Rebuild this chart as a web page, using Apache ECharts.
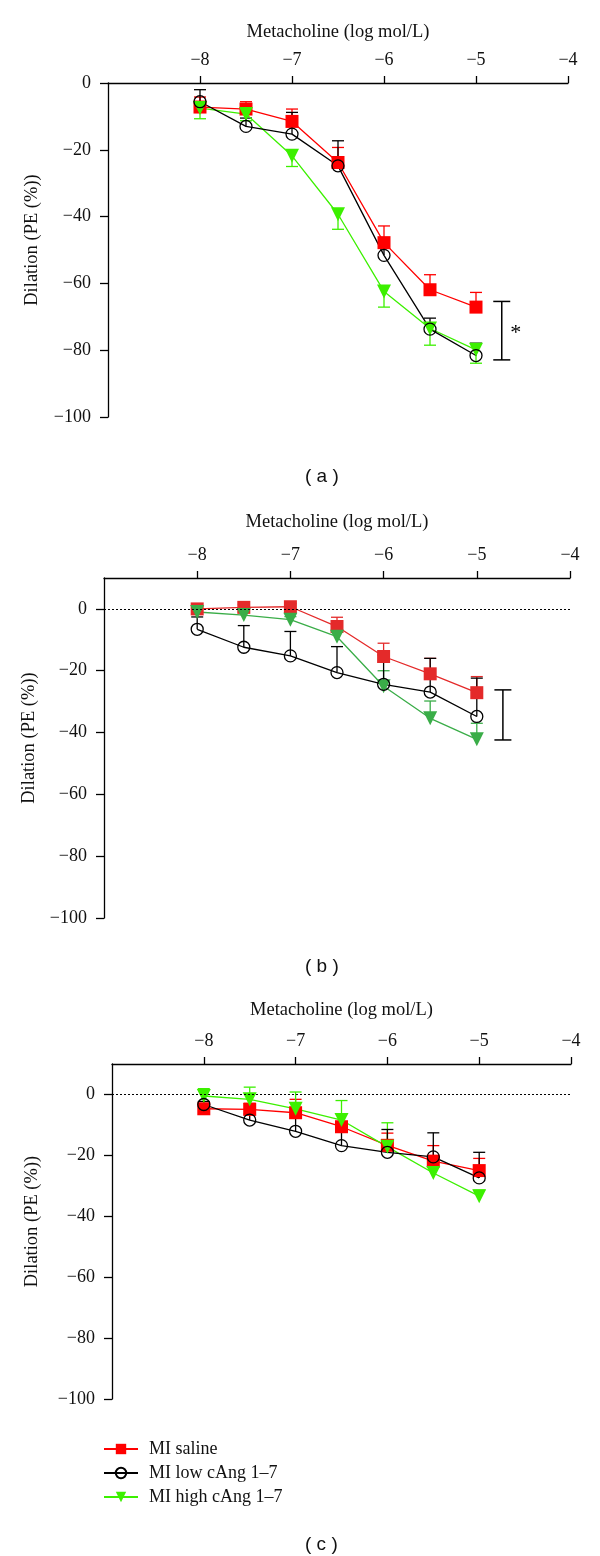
<!DOCTYPE html>
<html>
<head>
<meta charset="utf-8">
<script src="https://cdn.jsdelivr.net/npm/echarts@6/dist/echarts.min.js"></script>
<style>html,body{margin:0;padding:0;background:#fff}#c{width:600px;height:1556px}</style>
</head>
<body>
<div id="c"></div>
<script>
// ---- data ----
const doses = [-8, -7.5, -7, -6.5, -6, -5.5, -5];
const xTickValues = [-8, -7, -6, -5, -4];
const yTickValues = [0, -20, -40, -60, -80, -100];
const seriesNames = ['MI saline', 'MI low cAng 1\u20137', 'MI high cAng 1\u20137'];
const xTitle = 'Metacholine (log mol/L)';
const yTitle = 'Dilation (PE (%))';
const panelLabels = ['( a )', '( b )', '( c )'];

// panel (a)
const aSaline    = [-7.2, -7.8, -11.5, -23.8, -47.8, -61.9, -67.1];
const aSalineErr = [3, 2.2, 3.7, 4.5, 5, 4.5, 4.4];
const aLow       = [-5.6, -13, -15.3, -24.8, -51.6, -73.7, -81.6];
const aLowErr    = [3.6, 2.5, 6.5, 7.5, 4, 3.3, 3.7];
const aHigh      = [-7.5, -9.3, -21.8, -39.3, -62.4, -73.5, -79.9];
const aHighErr   = [3.2, 2, 3.2, 4.5, 4.7, 5, 4];
const aBracket   = [-4.72, -65.4, -82.9];
const aBracketMark = '*';

// panel (b)
const bSaline    = [0, 0.5, 0.7, -5.7, -15.4, -21, -27.1];
const bSalineErr = [1, 1, 1, 3, 4.3, 5, 5.2];
const bLow       = [-6.6, -12.4, -15.2, -20.6, -24.4, -26.9, -34.8];
const bLowErr    = [4, 7, 7.9, 8.4, 9.5, 10.9, 12.4];
const bHigh      = [-1, -2, -3.5, -9, -25, -35.4, -42.2];
const bHighErr   = [1, 1, 1, 2.5, 5, 5.6, 5.2];
const bBracket   = [-4.72, -26.2, -42.4];
const bBracketMark = '';

// panel (c)
const cSaline    = [-4.7, -4.9, -6, -10.6, -16.7, -21.9, -25];
const cSalineErr = [1, 2, 4.4, 4.3, 4, 5.1, 4];
const cLow       = [-3.3, -8.4, -12.1, -16.8, -19, -20.5, -27.4];
const cLowErr    = [1, 2, 5.5, 6.4, 7.5, 7.9, 8.4];
const cHigh      = [-0.5, -1.6, -4.7, -8.4, -17.2, -25.8, -33.4];
const cHighErr   = [2.4, 4, 5.5, 6.4, 7.9, 4, 2];

// ---- styling / layout ----
const SERIF = 'Liberation Serif';
const RED = '#ff0000', RED_B = '#e42a2a';
const LIME = '#3cf000', GREEN_B = '#3aad48';
const BLACK = '#000';
const minus = v => String(v).replace('-', '\u2212');

const grids = [
  {left: 108, right: 32, top: 83, height: 334},
  {left: 104, right: 30, top: 578, height: 340},
  {left: 112, right: 29, top: 1064, height: 335}
];
const yMax = [0, 10, 10];
const xNameGap = [41, 46, 44];
const yNameGap = [66, 58, 70];

const panels = [
  {s: aSaline, se: aSalineErr, l: aLow, le: aLowErr, h: aHigh, he: aHighErr, dir: [1, 1, -1], red: RED, green: LIME, bracket: aBracket, mark: aBracketMark, zeroLine: false},
  {s: bSaline, se: bSalineErr, l: bLow, le: bLowErr, h: bHigh, he: bHighErr, dir: [1, 1, 1], red: RED_B, green: GREEN_B, bracket: bBracket, mark: bBracketMark, zeroLine: true},
  {s: cSaline, se: cSalineErr, l: cLow, le: cLowErr, h: cHigh, he: cHighErr, dir: [1, 1, 1], red: RED, green: LIME, bracket: null, zeroLine: true}
];

const xAxes = grids.map((g, i) => ({
  gridIndex: i, type: 'value', position: 'top', min: -9, max: -4,
  name: xTitle, nameLocation: 'middle', nameGap: xNameGap[i],
  nameTextStyle: {fontFamily: SERIF, fontSize: 18.5, color: '#111'},
  axisLine: {onZero: false, lineStyle: {color: BLACK, width: 1.3}},
  axisTick: {customValues: xTickValues, length: 7, lineStyle: {color: BLACK, width: 1.3}},
  axisLabel: {customValues: xTickValues, formatter: minus, margin: 14, fontFamily: SERIF, fontSize: 18, color: '#111'},
  splitLine: {show: false}
}));
const yAxes = grids.map((g, i) => ({
  gridIndex: i, type: 'value', min: -100, max: yMax[i],
  name: yTitle, nameLocation: 'middle', nameGap: yNameGap[i], nameRotate: 90,
  nameTextStyle: {fontFamily: SERIF, fontSize: 18.5, color: '#111', padding: [0, 0, 0, 20]},
  axisLine: {onZero: false, lineStyle: {color: BLACK, width: 1.3}},
  axisTick: {customValues: yTickValues, length: 8, lineStyle: {color: BLACK, width: 1.3}},
  axisLabel: {customValues: yTickValues, formatter: minus, margin: 17, fontFamily: SERIF, fontSize: 18, color: '#111'},
  splitLine: {show: false}
}));

function errSeries(i, mean, err, dir, color) {
  return {
    type: 'custom', xAxisIndex: i, yAxisIndex: i, silent: true,
    data: doses.map((d, k) => [d, mean[k], err[k]]),
    renderItem: (params, api) => {
      const x = api.value(0), m = api.value(1), e = api.value(2);
      const p0 = api.coord([x, m]);
      const p1 = api.coord([x, m + dir * e]);
      const st = {stroke: color, lineWidth: 1.3};
      return {type: 'group', children: [
        {type: 'line', shape: {x1: p0[0], y1: p0[1], x2: p1[0], y2: p1[1]}, style: st},
        {type: 'line', shape: {x1: p1[0] - 6, y1: p1[1], x2: p1[0] + 6, y2: p1[1]}, style: st}
      ]};
    }
  };
}
function lineSeries(i, name, mean, color, symbol, size, extra) {
  return Object.assign({
    type: 'line', name: name, xAxisIndex: i, yAxisIndex: i,
    data: doses.map((d, k) => [d, mean[k]]),
    symbol: symbol, symbolSize: size, showSymbol: true,
    lineStyle: {color: color, width: 1.3},
    itemStyle: {color: color},
    emphasis: {disabled: true}, animation: false
  }, extra || {});
}
function bracketSeries(i, b, mark) {
  return {
    type: 'custom', xAxisIndex: i, yAxisIndex: i, silent: true,
    data: [b],
    renderItem: (params, api) => {
      const p1 = api.coord([api.value(0), api.value(1)]);
      const p2 = api.coord([api.value(0), api.value(2)]);
      const st = {stroke: BLACK, lineWidth: 1.5};
      const ch = [
        {type: 'line', shape: {x1: p1[0], y1: p1[1], x2: p2[0], y2: p2[1]}, style: st},
        {type: 'line', shape: {x1: p1[0] - 8.5, y1: p1[1], x2: p1[0] + 8.5, y2: p1[1]}, style: st},
        {type: 'line', shape: {x1: p2[0] - 8.5, y1: p2[1], x2: p2[0] + 8.5, y2: p2[1]}, style: st}
      ];
      if (mark) ch.push({type: 'text', x: p1[0] + 14, y: (p1[1] + p2[1]) / 2 + 3,
        style: {text: mark, fontFamily: SERIF, fontSize: 22, fill: BLACK, align: 'center', verticalAlign: 'middle'}});
      return {type: 'group', children: ch};
    }
  };
}

const series = [];
panels.forEach((p, i) => {
  series.push(errSeries(i, p.s, p.se, p.dir[0], p.red));
  series.push(errSeries(i, p.h, p.he, p.dir[2], p.green));
  series.push(errSeries(i, p.l, p.le, p.dir[1], BLACK));
  const red = lineSeries(i, seriesNames[0], p.s, p.red, 'rect', 13);
  if (p.zeroLine) {
    red.markLine = {silent: true, symbol: 'none', label: {show: false},
      lineStyle: {color: BLACK, type: [2, 2], width: 1.2}, data: [{yAxis: 0}], animation: false};
  }
  series.push(red);
  series.push(lineSeries(i, seriesNames[2], p.h, p.green, 'triangle', 14, {symbolRotate: 180}));
  series.push(lineSeries(i, seriesNames[1], p.l, BLACK, 'circle', 12,
    {itemStyle: {color: 'rgba(0,0,0,0)', borderColor: BLACK, borderWidth: 1.3}}));
  if (p.bracket) series.push(bracketSeries(i, p.bracket, p.mark));
});

const labelTops = [462, 952, 1530];
const chart = echarts.init(document.getElementById('c'), null, {renderer: 'canvas'});
chart.setOption({
  backgroundColor: '#fff',
  animation: false,
  title: panelLabels.map((t, i) => ({
    text: t, left: 300, top: labelTops[i],
    textStyle: {fontFamily: 'Liberation Sans', fontWeight: 'normal', fontSize: 19, color: '#111'}
  })),
  legend: {
    data: seriesNames, orient: 'vertical', left: 98, top: 1435,
    itemWidth: 34, itemHeight: 13, itemGap: 6,
    textStyle: {fontFamily: SERIF, fontSize: 18, color: '#111', padding: [0, 0, 0, 6]},
    selectedMode: false
  },
  grid: grids,
  xAxis: xAxes,
  yAxis: yAxes,
  series: series
});
</script>
</body>
</html>
